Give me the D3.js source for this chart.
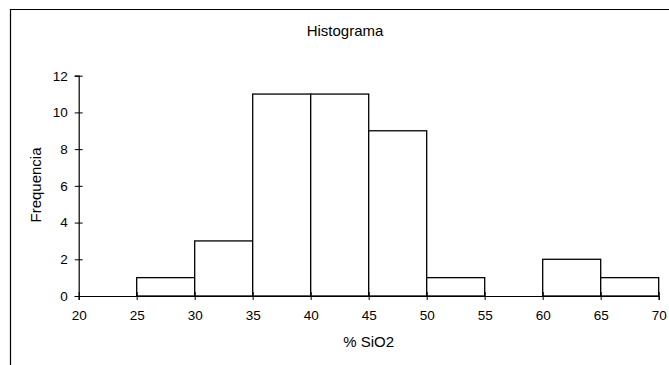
<!DOCTYPE html>
<html>
<head>
<meta charset="utf-8">
<script src="https://cdn.jsdelivr.net/npm/d3@7"></script>
<style>
  html, body { margin: 0; padding: 0; background: #fff; }
  svg { display: block; font-family: "Liberation Sans", Arial, sans-serif; }
</style>
</head>
<body>
<svg id="chart" width="669" height="365"></svg>
<script>
// Histogram of SiO2 content: class edges and counts per class
const binStarts = [25, 30, 35, 40, 45, 50, 55, 60, 65];
const binWidth = 5;
const counts = [1, 3, 11, 11, 9, 1, 0, 2, 1];
const xTicks = [20, 25, 30, 35, 40, 45, 50, 55, 60, 65, 70];
const yTicks = [0, 2, 4, 6, 8, 10, 12];
const titleText = "Histograma";
const xLabel = "% SiO2";
const yLabel = "Frequencia";

const svg = d3.select("#chart");

// chart frame
svg.append("path")
  .attr("d", "M10.5,365 L10.5,9.5 L669,9.5")
  .attr("fill", "none")
  .attr("stroke", "#000")
  .attr("stroke-width", 1.2);

const x = d3.scaleLinear().domain([20, 70]).range([78.7, 658.7]);
const y = d3.scaleLinear().domain([0, 12]).range([296, 75.7]);

// bars
svg.append("g")
  .selectAll("rect")
  .data(binStarts.map((s, i) => ({ s, c: counts[i] })).filter(d => d.c > 0))
  .join("rect")
  .attr("x", d => x(d.s))
  .attr("width", d => x(d.s + binWidth) - x(d.s))
  .attr("y", d => y(d.c))
  .attr("height", d => y(0) - y(d.c))
  .attr("fill", "#fff")
  .attr("stroke", "#000")
  .attr("stroke-width", 1.3);

// y axis with crossing tick marks
const gy = svg.append("g")
  .attr("transform", `translate(${x(20)},0)`)
  .call(d3.axisLeft(y).tickValues(yTicks).tickSize(4).tickPadding(7).tickFormat(d3.format("d")));
gy.selectAll(".tick line").attr("x1", 4);

// x axis with crossing tick marks
const gx = svg.append("g")
  .attr("transform", `translate(0,${y(0)})`)
  .call(d3.axisBottom(x).tickValues(xTicks).tickSize(4).tickPadding(10).tickFormat(d3.format("d")));
gx.selectAll(".tick line").attr("y1", -4);

[gx, gy].forEach(g => {
  g.select(".domain").attr("stroke", "#000").attr("stroke-width", 1.2);
  g.selectAll(".tick line").attr("stroke", "#000").attr("stroke-width", 1);
  g.selectAll(".tick text")
    .attr("fill", "#000")
    .style("font-family", "'Liberation Sans', Arial, sans-serif")
    .style("font-size", "13.5px");
});

// titles
svg.append("text")
  .attr("x", 345).attr("y", 36)
  .attr("text-anchor", "middle")
  .style("font-size", "15px")
  .text(titleText);

svg.append("text")
  .attr("x", 368.7).attr("y", 347)
  .attr("text-anchor", "middle")
  .style("font-size", "15px")
  .text(xLabel);

svg.append("text")
  .attr("transform", "translate(41,185) rotate(-90)")
  .attr("text-anchor", "middle")
  .style("font-size", "15px")
  .text(yLabel);
</script>
</body>
</html>
